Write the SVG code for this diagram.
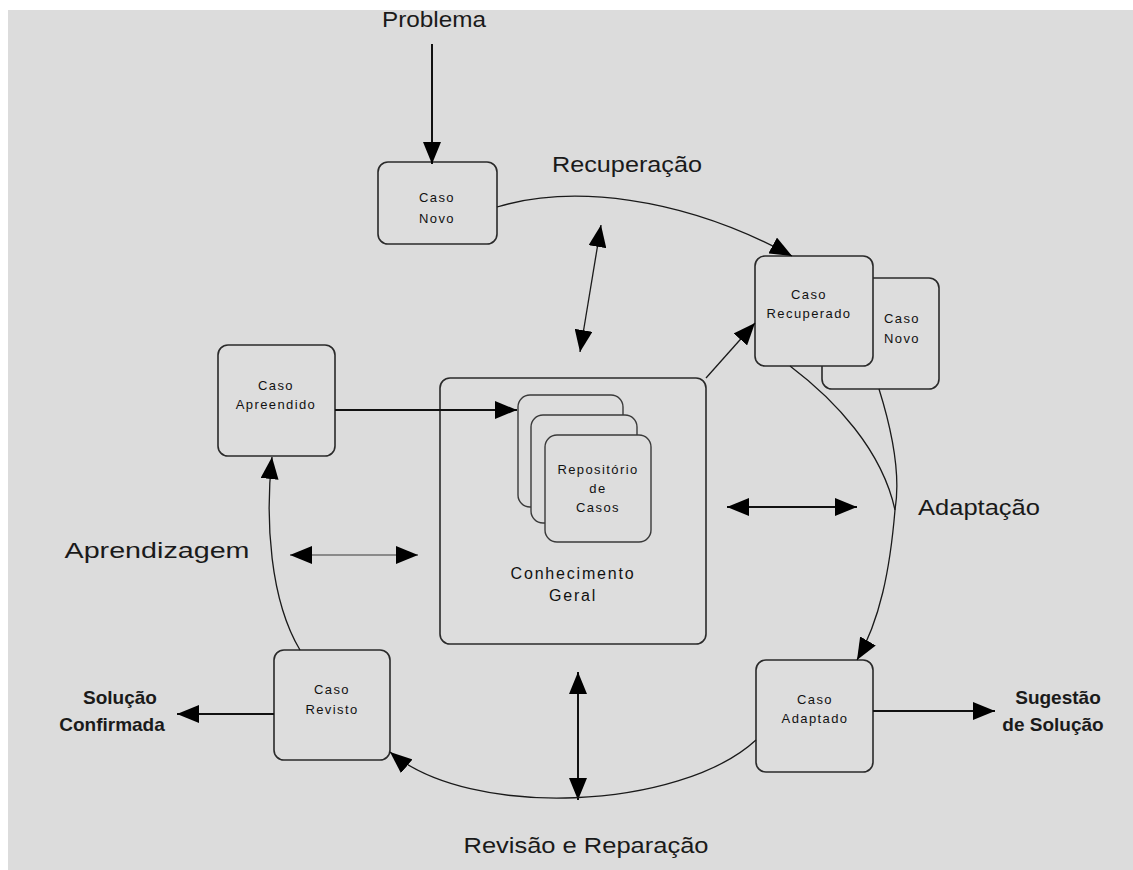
<svg xmlns="http://www.w3.org/2000/svg" width="1133" height="870" viewBox="0 0 1133 870">
  <style>
    .box { fill: #dddddd; stroke: #2a2a2a; stroke-width: 1.6; }
    .sub { fill: #dddddd; stroke: #3a3a3a; stroke-width: 1.4; }
    .lbl { font-family: "Liberation Sans", Arial, sans-serif; font-size: 13px; letter-spacing: 1.4px; fill: #111; text-anchor: middle; }
    .mid { font-family: "Liberation Sans", Arial, sans-serif; font-size: 16px; letter-spacing: 1.8px; fill: #111; text-anchor: middle; }
    .big { font-family: "Liberation Sans", Arial, sans-serif; font-size: 22px; fill: #1a1a1a; text-anchor: middle; }
    .out { font-family: "Liberation Sans", Arial, sans-serif; font-size: 19px; font-weight: bold; fill: #1a1a1a; text-anchor: middle; }
    .wire { fill: none; stroke: #1a1a1a; stroke-width: 1.3; }
    .thick { fill: none; stroke: #111; stroke-width: 2; }
  </style>
  <defs>
    <marker id="head" viewBox="0 0 22 18" refX="22" refY="9" markerWidth="22" markerHeight="18" markerUnits="userSpaceOnUse" orient="auto-start-reverse">
      <path d="M0,0 L22,9 L0,18 Z" fill="#000"/>
    </marker>
  </defs>

  <!-- page -->
  <rect x="0" y="0" width="1133" height="870" fill="#ffffff"/>
  <rect x="8" y="10" width="1125" height="860" fill="#dcdcdc"/>

  <!-- nodes -->
  <g id="caso-novo">
    <rect class="box" x="378" y="162" width="119" height="82" rx="10"/>
    <text class="lbl" x="437" y="202">Caso</text>
    <text class="lbl" x="437" y="223">Novo</text>
  </g>

  <g id="caso-novo-copia">
    <rect class="box" x="822" y="278" width="117" height="111" rx="10"/>
    <text class="lbl" x="902" y="323">Caso</text>
    <text class="lbl" x="902" y="343">Novo</text>
  </g>

  <g id="caso-recuperado">
    <rect class="box" x="755" y="256" width="118" height="110" rx="10"/>
    <text class="lbl" x="809" y="299">Caso</text>
    <text class="lbl" x="809" y="318">Recuperado</text>
  </g>

  <g id="conhecimento-geral">
    <rect class="box" x="440" y="378" width="266" height="266" rx="10"/>
    <rect class="sub" x="518" y="395" width="105" height="112" rx="12"/>
    <rect class="sub" x="531" y="415" width="106" height="108" rx="12"/>
    <rect class="sub" x="545" y="435" width="106" height="107" rx="12"/>
    <text class="lbl" x="598" y="474">Repositório</text>
    <text class="lbl" x="598" y="493">de</text>
    <text class="lbl" x="598" y="512">Casos</text>
    <text class="mid" x="573" y="579">Conhecimento</text>
    <text class="mid" x="573" y="601">Geral</text>
  </g>

  <g id="caso-apreendido">
    <rect class="box" x="218" y="345" width="117" height="111" rx="10"/>
    <text class="lbl" x="276" y="390">Caso</text>
    <text class="lbl" x="276" y="409">Apreendido</text>
  </g>

  <g id="caso-adaptado">
    <rect class="box" x="756" y="660" width="117" height="112" rx="10"/>
    <text class="lbl" x="815" y="704">Caso</text>
    <text class="lbl" x="815" y="723">Adaptado</text>
  </g>

  <g id="caso-revisto">
    <rect class="box" x="274" y="650" width="116" height="110" rx="10"/>
    <text class="lbl" x="332" y="694">Caso</text>
    <text class="lbl" x="332" y="714">Revisto</text>
  </g>

  <!-- connectors -->
  <g id="connectors">
    <line class="thick" x1="432" y1="44" x2="432" y2="164" marker-end="url(#head)"/>
    <path class="wire" d="M497,207 C570,185 680,195 792,256" marker-end="url(#head)"/>
    <line class="wire" x1="580" y1="352" x2="601" y2="225" marker-start="url(#head)" marker-end="url(#head)"/>
    <line class="wire" x1="706" y1="378" x2="755" y2="323" marker-end="url(#head)"/>
    <line class="thick" x1="335" y1="410" x2="517" y2="410" marker-end="url(#head)"/>
    <path class="wire" d="M790,366 C835,400 882,450 895,510"/>
    <path class="wire" d="M879,389 C895,440 900,480 895,510 C890,570 880,620 857,660" marker-end="url(#head)"/>
    <line class="thick" x1="727" y1="507" x2="857" y2="507" marker-start="url(#head)" marker-end="url(#head)"/>
    <line x1="290" y1="555" x2="418" y2="555" stroke="#8a8a8a" stroke-width="2" marker-start="url(#head)" marker-end="url(#head)"/>
    <line class="thick" x1="873" y1="711" x2="995" y2="711" marker-end="url(#head)"/>
    <line class="thick" x1="274" y1="714" x2="177" y2="714" marker-end="url(#head)"/>
    <line class="thick" x1="578" y1="672" x2="578" y2="800" marker-start="url(#head)" marker-end="url(#head)"/>
    <path class="wire" d="M756,740 C680,810 470,820 390,752" marker-end="url(#head)"/>
    <path class="wire" d="M300,650 C270,600 265,520 272,457" marker-end="url(#head)"/>
  </g>

  <!-- stage labels -->
  <g id="labels">
    <text class="big" x="434" y="27" textLength="104" lengthAdjust="spacingAndGlyphs">Problema</text>
    <text class="big" x="627" y="172" textLength="150" lengthAdjust="spacingAndGlyphs">Recuperação</text>
    <text class="big" x="979" y="515" textLength="122" lengthAdjust="spacingAndGlyphs">Adaptação</text>
    <text class="big" x="157" y="558" textLength="185" lengthAdjust="spacingAndGlyphs">Aprendizagem</text>
    <text class="big" x="586" y="853" textLength="245" lengthAdjust="spacingAndGlyphs">Revisão e Reparação</text>
    <text class="out" x="1058" y="704">Sugestão</text>
    <text class="out" x="1053" y="731">de Solução</text>
    <text class="out" x="120" y="704">Solução</text>
    <text class="out" x="112" y="731">Confirmada</text>
  </g>
</svg>
